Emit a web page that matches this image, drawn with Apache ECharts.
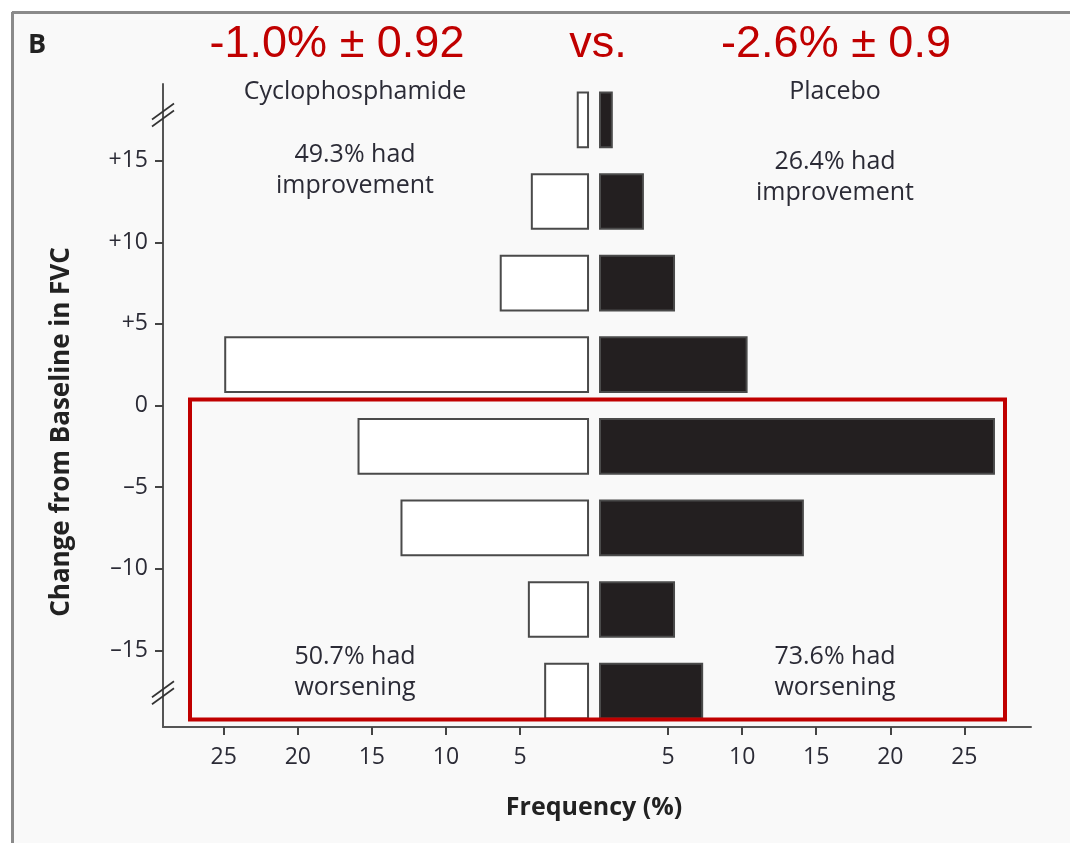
<!DOCTYPE html>
<html>
<head>
<meta charset="utf-8">
<script src="https://cdn.jsdelivr.net/npm/echarts@6/dist/echarts.min.js"></script>
<style>
  html, body { margin: 0; padding: 0; background: #ffffff; }
  #chart { width: 1070px; height: 843px; }
</style>
</head>
<body>
<div id="chart"></div>
<script>
// FVC change bins (percentage points), top to bottom
const bins = ['>+15', '+10 to +15', '+5 to +10', '0 to +5', '0 to \u22125', '\u22125 to \u221210', '\u221210 to \u221215', '<\u221215'];
const binMid = [17.5, 12.5, 7.5, 2.5, -2.5, -7.5, -12.5, -17.5];
const binWidth = 5;

// Frequency (%) of patients in each bin
const cyclophosphamide = [1.1, 4.2, 6.3, 24.9, 15.9, 13.0, 4.4, 3.3];
const placebo = [1.2, 3.3, 5.4, 10.3, 27.0, 14.1, 5.4, 7.3];

// Axis tick values
const yTicks = [-15, -10, -5, 0, 5, 10, 15];
const xTicks = [-25, -20, -15, -10, -5, 5, 10, 15, 20, 25];

// Header and annotation texts
const groupNames = ['Cyclophosphamide', 'Placebo'];
const meanChange = ['-1.0% \u00b1 0.92', '-2.6% \u00b1 0.9'];
const improved = ['49.3% had\nimprovement', '26.4% had\nimprovement'];
const worsened = ['50.7% had\nworsening', '73.6% had\nworsening'];

const TEXT = '#2b2b36';
const FONT = '"Open Sans", "Noto Sans", sans-serif';
const RED_FONT = '45px "Liberation Sans", Arial, sans-serif';
const GAP = 6; // pixels between the two halves at zero

function barRenderer(fill) {
  return function (params, api) {
    const v = api.value(0);
    const c = api.value(1);
    const end = api.coord([v, c]);
    const zero = api.coord([0, c]);
    const h = api.size([0, binWidth])[1] * 0.67;
    const dir = v < 0 ? -1 : 1;
    const x0 = zero[0] + dir * GAP;
    return {
      type: 'rect',
      shape: { x: Math.min(x0, end[0]), y: end[1] - h / 2, width: Math.abs(end[0] - x0), height: h },
      style: { fill: fill, stroke: '#4a4a4a', lineWidth: 2 }
    };
  };
}

const chart = echarts.init(document.getElementById('chart'), null, { renderer: 'canvas' });

chart.setOption({
  backgroundColor: '#f9f9f9',
  animation: false,
  grid: { left: 163, right: 39, top: 84, bottom: 116, containLabel: false },
  xAxis: {
    type: 'value', min: -29.1, max: 29.5,
    axisLine: { show: true, onZero: false, lineStyle: { color: '#555', width: 2 } },
    axisTick: { show: true, length: 8, customValues: xTicks, lineStyle: { color: '#444', width: 2 } },
    axisLabel: {
      customValues: xTicks, margin: 19, color: TEXT, fontFamily: FONT, fontSize: 23,
      formatter: v => String(Math.abs(v))
    },
    splitLine: { show: false }
  },
  yAxis: {
    type: 'value', min: -19.7, max: 19.7,
    axisLine: { show: true, onZero: false, lineStyle: { color: '#555', width: 2 } },
    axisTick: { show: true, length: 8, customValues: yTicks, lineStyle: { color: '#444', width: 2 } },
    axisLabel: {
      customValues: yTicks, margin: 15, color: TEXT, fontFamily: FONT, fontSize: 23,
      formatter: v => v > 0 ? '+' + v : (v < 0 ? '\u2013' + Math.abs(v) : '0')
    },
    splitLine: { show: false }
  },
  series: [
    {
      name: groupNames[0], type: 'custom',
      renderItem: barRenderer('#ffffff'),
      data: cyclophosphamide.map((v, i) => [-v, binMid[i], bins[i]])
    },
    {
      name: groupNames[1], type: 'custom',
      renderItem: barRenderer('#231f20'),
      data: placebo.map((v, i) => [v, binMid[i], bins[i]])
    }
  ]
});

// Decorations placed with the chart's own coordinate system
const axisX = chart.convertToPixel({ gridIndex: 0 }, [-29.1, 0])[0];
const topBreak = chart.convertToPixel({ gridIndex: 0 }, [-29.1, 17.8])[1];
const botBreak = chart.convertToPixel({ gridIndex: 0 }, [-29.1, -17.6])[1];
const zeroY = chart.convertToPixel({ gridIndex: 0 }, [0, 0])[1];
const leftCx = 355, rightCx = 835;

function breakMark(y) {
  return [-3.5, 3.5].map(d => ({
    type: 'line',
    shape: { x1: axisX - 11, y1: y + d + 8, x2: axisX + 11, y2: y + d - 8 },
    style: { stroke: '#333', lineWidth: 1.6 },
    z: 10
  }));
}

function label(text, x, y, opts, extra) {
  return Object.assign({
    type: 'text', x: x, y: y, z: 10,
    style: Object.assign({
      text: text, fill: TEXT, font: '25px ' + FONT,
      textAlign: 'center', textVerticalAlign: 'middle', lineHeight: 31
    }, opts || {})
  }, extra || {});
}

chart.setOption({
  graphic: [
    // outer frame
    { type: 'rect', shape: { x: 0, y: 0, width: 1070, height: 11 }, style: { fill: '#ffffff' }, z: 0 },
    { type: 'rect', shape: { x: 0, y: 0, width: 11, height: 843 }, style: { fill: '#ffffff' }, z: 0 },
    { type: 'line', shape: { x1: 12, y1: 12.5, x2: 1070, y2: 12.5 }, style: { stroke: '#8a8a8a', lineWidth: 3 }, z: 1 },
    { type: 'line', shape: { x1: 12.5, y1: 12, x2: 12.5, y2: 843 }, style: { stroke: '#8a8a8a', lineWidth: 3 }, z: 1 },
    // panel letter
    label('B', 37, 45, { font: 'bold 27px ' + FONT, fill: '#222' }),
    // mean change header
    label(meanChange[0], 337, 45, { font: RED_FONT, fill: '#c00000' }),
    label('vs.', 598, 45, { font: RED_FONT, fill: '#c00000' }),
    label(meanChange[1], 836, 45, { font: RED_FONT, fill: '#c00000' }),
    // group names
    label(groupNames[0], leftCx, 92),
    label(groupNames[1], rightCx, 92),
    // annotations
    label(improved[0], leftCx, 170),
    label(improved[1], rightCx, 177),
    label(worsened[0], leftCx, 672),
    label(worsened[1], rightCx, 672),
    // axis titles
    label('Change from Baseline in FVC', 62, 432, { font: 'bold 26px ' + FONT, fill: '#222' }, { rotation: Math.PI / 2 }),
    label('Frequency (%)', 594, 808, { font: 'bold 25px ' + FONT, fill: '#222' }),
    // worsening highlight box
    { type: 'rect', shape: { x: 190, y: zeroY - 6, width: 815, height: 320 },
      style: { fill: 'none', stroke: '#c00000', lineWidth: 4 }, z: 20 }
  ].concat(breakMark(topBreak), breakMark(botBreak))
});
</script>
</body>
</html>
